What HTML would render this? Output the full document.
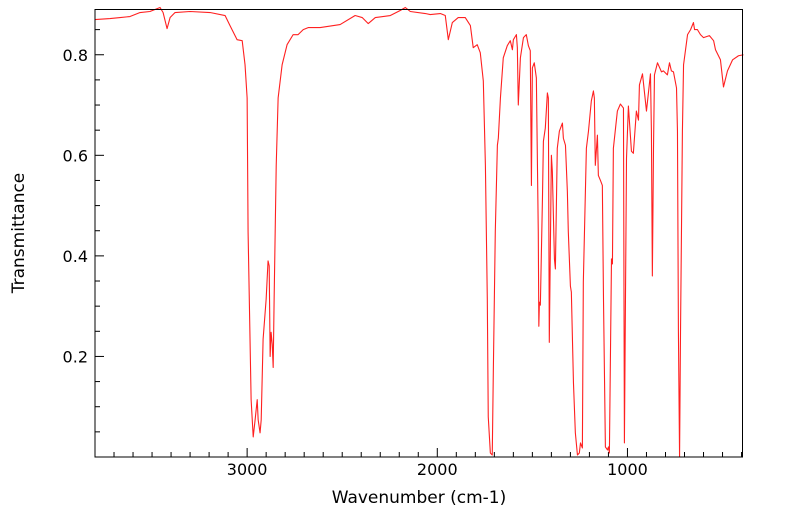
<!DOCTYPE html>
<html><head><meta charset="utf-8"><style>
html,body{margin:0;padding:0;background:#fff;}
svg{display:block;font-family:"DejaVu Sans","Liberation Sans",sans-serif;}
</style></head><body>
<svg id="chart" width="799" height="516">
<g id="ticks"></g>
<g id="labels"></g>
<path id="line" fill="none" stroke="#ff2020" stroke-width="1.1" stroke-linejoin="round"></path>
<rect x="95" y="9.5" width="647.5" height="447.5" fill="none" stroke="#000" stroke-width="1"></rect>
<text x="419" y="503" font-size="17" text-anchor="middle" fill="#000">Wavenumber (cm-1)</text>
<text x="24" y="233" font-size="17" text-anchor="middle" fill="#000" transform="rotate(-90 24 233)">Transmittance</text>
</svg>
<script>
const wavenumbers=[3800,3721,3668,3616,3563,3511,3458,3442,3421,3405,3379,3300,3195,3116,3090,3053,3026,3011,3000,2995,2979,2968,2958,2947,2942,2932,2926,2916,2900,2890,2884,2879,2874,2868,2863,2858,2847,2837,2816,2790,2758,2732,2705,2679,2616,2511,2432,2395,2363,2326,2247,2195,2168,2142,2063,2037,1984,1958,1942,1921,1890,1853,1826,1811,1790,1774,1758,1747,1737,1732,1721,1711,1705,1695,1684,1679,1668,1653,1632,1616,1605,1600,1584,1579,1574,1563,1547,1532,1521,1511,1505,1500,1490,1479,1469,1466,1463,1458,1447,1442,1432,1421,1416,1411,1400,1395,1384,1379,1369,1358,1342,1337,1326,1316,1311,1300,1295,1284,1274,1263,1253,1247,1237,1232,1216,1205,1190,1179,1174,1169,1158,1153,1142,1132,1126,1116,1105,1100,1095,1084,1079,1074,1053,1037,1021,1016,1005,995,979,969,953,942,937,921,900,879,874,869,863,858,842,821,811,790,779,769,758,742,737,732,726,721,711,705,684,668,653,647,632,616,600,569,547,537,511,495,474,447,416,390];
const transmittance=[.870,.872,.874,.876,.884,.886,.894,.884,.852,.874,.884,.886,.884,.878,.858,.830,.828,.780,.714,.448,.114,.040,.074,.114,.074,.048,.074,.234,.314,.390,.380,.200,.248,.224,.178,.314,.580,.714,.780,.820,.840,.840,.850,.854,.854,.860,.878,.874,.862,.874,.878,.888,.894,.886,.882,.880,.882,.878,.830,.864,.874,.874,.858,.814,.820,.804,.748,.580,.314,.080,.008,.004,.180,.448,.620,.634,.714,.794,.818,.828,.810,.830,.840,.814,.700,.794,.834,.840,.818,.808,.540,.774,.784,.754,.448,.260,.308,.302,.514,.628,.654,.724,.714,.228,.600,.568,.394,.374,.614,.648,.664,.634,.620,.528,.448,.340,.328,.148,.048,.004,.008,.028,.018,.348,.614,.648,.708,.728,.714,.580,.640,.560,.550,.540,.314,.020,.014,.020,.008,.394,.384,.614,.688,.702,.694,.028,.594,.698,.608,.604,.688,.670,.740,.762,.688,.762,.648,.360,.614,.760,.784,.766,.768,.760,.784,.768,.766,.734,.648,.248,.000,.248,.648,.780,.840,.850,.864,.850,.850,.840,.834,.838,.828,.810,.790,.736,.768,.790,.798,.800];
const xTickLabels=[3000,2000,1000];
const yTickLabels=[0.2,0.4,0.6,0.8];
const X0=95,X1=742.5,Y0=9.5,Y1=457;
const WN_LEFT=3800,WN_RIGHT=395,T_TOP=0.89,T_BOT=0;
function xs(w){return X0+(WN_LEFT-w)/(WN_LEFT-WN_RIGHT)*(X1-X0);}
function ys(t){return Y1-(t-T_BOT)/(T_TOP-T_BOT)*(Y1-Y0);}
const NS="http://www.w3.org/2000/svg";
let d="";
for(let i=0;i<wavenumbers.length;i++){d+=(i?"L":"M")+xs(wavenumbers[i]).toFixed(2)+" "+ys(transmittance[i]).toFixed(2);}
document.getElementById("line").setAttribute("d",d);
const tg=document.getElementById("ticks"),lg=document.getElementById("labels");
function ln(x1,y1,x2,y2,name){const l=document.createElementNS(NS,"line");
l.setAttribute("x1",x1);l.setAttribute("y1",y1);l.setAttribute("x2",x2);l.setAttribute("y2",y2);
l.setAttribute("stroke","#000");l.setAttribute("stroke-width","1");


tg.appendChild(l);}
for(let w=3700;w>=400;w-=100){const x=xs(w);const major=(w%1000===0);ln(x,Y1,x,Y1-(major?9:5),major?"x-major-tick":"x-minor-tick");}
for(let k=1;k<=17;k++){const t=k*0.05;const y=ys(t);const major=(k%4===0);ln(X0,y,X0+(major?9:5),y,major?"y-major-tick":"y-minor-tick");}
xTickLabels.forEach(v=>{const t=document.createElementNS(NS,"text");
t.setAttribute("x",xs(v));t.setAttribute("y",475);t.setAttribute("font-size","16");t.setAttribute("text-anchor","middle");
t.textContent=v;


lg.appendChild(t);});
yTickLabels.forEach(v=>{const t=document.createElementNS(NS,"text");
t.setAttribute("x",88);t.setAttribute("y",ys(v)+6);t.setAttribute("font-size","16");t.setAttribute("text-anchor","end");
t.textContent=v.toFixed(1);


lg.appendChild(t);});
</script>
</body></html>
